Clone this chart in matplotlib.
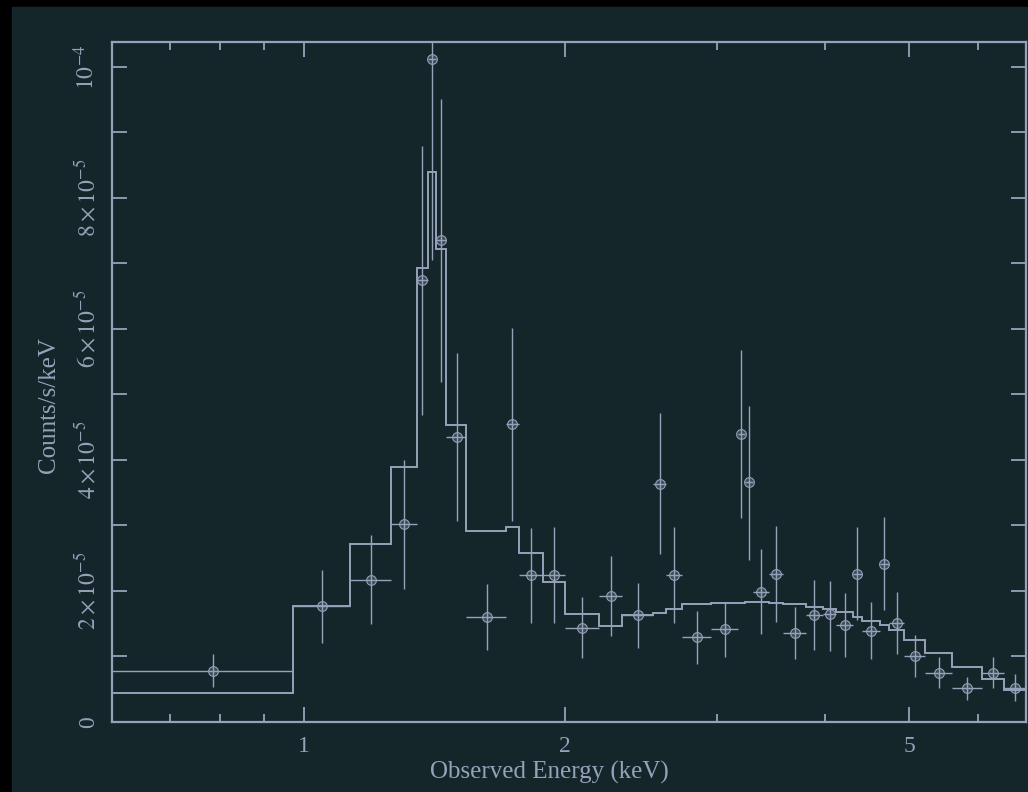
import numpy as np
import matplotlib.pyplot as plt
from matplotlib.patches import Rectangle
from matplotlib.ticker import FixedLocator, NullFormatter

plt.rcParams['font.family'] = ['Liberation Serif', 'DejaVu Serif']
plt.rcParams['mathtext.fontset'] = 'stix'

bg = '#15262a'
fg = '#97a1ba'

# energy bin edges (keV)
edges = [0.60, 0.97, 1.13, 1.26, 1.35, 1.39, 1.42, 1.46, 1.54, 1.71, 1.77,
         1.89, 2.00, 2.19, 2.33, 2.53, 2.62, 2.73, 2.95, 3.17, 3.23, 3.30,
         3.44, 3.57, 3.80, 3.97, 4.12, 4.30, 4.41, 4.62, 4.74, 4.93, 5.22,
         5.60, 6.07, 6.43, 6.82]

# data (units of 1e-5 counts/s/keV)
rate = [0.78, 1.77, 2.17, 3.02, 6.75, 10.12, 7.36, 4.35, 1.60, 4.55, 2.24,
        2.24, 1.44, 1.92, 1.63, 3.63, 2.24, 1.30, 1.42, 4.40, 3.66, 1.98,
        2.26, 1.36, 1.63, 1.65, 1.48, 2.26, 1.39, 2.41, 1.51, 1.01, 0.75,
        0.52, 0.75, 0.52]
rate_hi = [1.04, 2.32, 2.85, 4.00, 8.79, 10.60, 9.51, 5.63, 2.11, 6.02, 2.96,
           2.98, 1.91, 2.53, 2.12, 4.72, 2.98, 1.69, 1.83, 5.68, 4.82, 2.64,
           2.99, 1.76, 2.17, 2.15, 1.97, 2.98, 1.83, 3.13, 1.98, 1.33, 0.99,
           0.69, 0.99, 0.73]
rate_lo = [0.53, 1.21, 1.50, 2.03, 4.69, 7.05, 5.19, 3.07, 1.10, 3.07, 1.51,
           1.51, 0.98, 1.31, 1.13, 2.56, 1.51, 0.89, 0.99, 3.11, 2.47, 1.34,
           1.53, 0.96, 1.10, 1.08, 0.99, 1.56, 0.96, 1.71, 1.04, 0.69, 0.52,
           0.34, 0.52, 0.32]

# folded model per bin
model = [0.44, 1.77, 2.72, 3.89, 6.93, 8.40, 7.22, 4.53, 2.92, 2.98, 2.58,
         2.14, 1.65, 1.47, 1.63, 1.66, 1.73, 1.80, 1.82, 1.82, 1.83, 1.83,
         1.82, 1.80, 1.76, 1.73, 1.68, 1.60, 1.54, 1.48, 1.40, 1.25, 1.05,
         0.84, 0.66, 0.49]

edges = np.array(edges)
scale = 1e-5
y = np.array(rate) * scale
lo = np.array(rate_lo) * scale
hi = np.array(rate_hi) * scale
xc = 0.5 * (edges[:-1] + edges[1:])
xerr = 0.5 * (edges[1:] - edges[:-1])

fig = plt.figure(figsize=(10.28, 7.92), dpi=100, facecolor='black')
fig.patches.append(Rectangle((12 / 1028, 0), 1, 1 - 7 / 792,
                             transform=fig.transFigure, color=bg, zorder=-1))
ax = fig.add_axes([112 / 1028, 70 / 792, 914 / 1028, 680 / 792])
ax.set_facecolor(bg)

ax.stairs(np.array(model) * scale, edges, baseline=None, color=fg, lw=1.4)
ax.errorbar(xc, y, xerr=xerr, yerr=[y - lo, hi - y], fmt='o', ms=7,
            mfc=(0.59, 0.63, 0.73, 0.3), mec=fg, mew=0.8, ecolor=fg,
            elinewidth=1.0, capsize=0, color=fg)

ax.set_xscale('log')
ax.set_xlim(0.6, 6.82)
ax.set_ylim(0, 1.038e-4)

ax.xaxis.set_major_locator(FixedLocator([1, 2, 5]))
ax.xaxis.set_minor_locator(FixedLocator([0.6, 0.7, 0.8, 0.9, 3, 4, 6]))
ax.xaxis.set_minor_formatter(NullFormatter())
ax.set_xticklabels(['1', '2', '5'])

yt = [i * 1e-5 for i in range(11)]
ylabs = ['0', '', r'$2\times10^{-5}$', '', r'$4\times10^{-5}$', '',
         r'$6\times10^{-5}$', '', r'$8\times10^{-5}$', '', r'$10^{-4}$']
ax.set_yticks(yt)
ax.set_yticklabels(ylabs, rotation=90, va='center')

ax.tick_params(which='both', direction='in', color=fg, labelcolor=fg,
               top=True, right=True, width=1.3, labelsize=17)
ax.tick_params(axis='x', which='major', length=11, pad=10)
ax.tick_params(axis='x', which='minor', length=6)
ax.tick_params(axis='y', which='major', length=11, pad=9)
for s in ax.spines.values():
    s.set_color(fg)
    s.set_linewidth(1.6)

ax.set_xlabel('Observed Energy (keV)', color=fg, fontsize=18, labelpad=3)
ax.set_ylabel('Counts/s/keV', color=fg, fontsize=18, labelpad=10)
ax.xaxis.label.set_x(0.479)
ax.yaxis.label.set_y(0.466)

fig.savefig('out.png', dpi=100, facecolor=fig.get_facecolor())
